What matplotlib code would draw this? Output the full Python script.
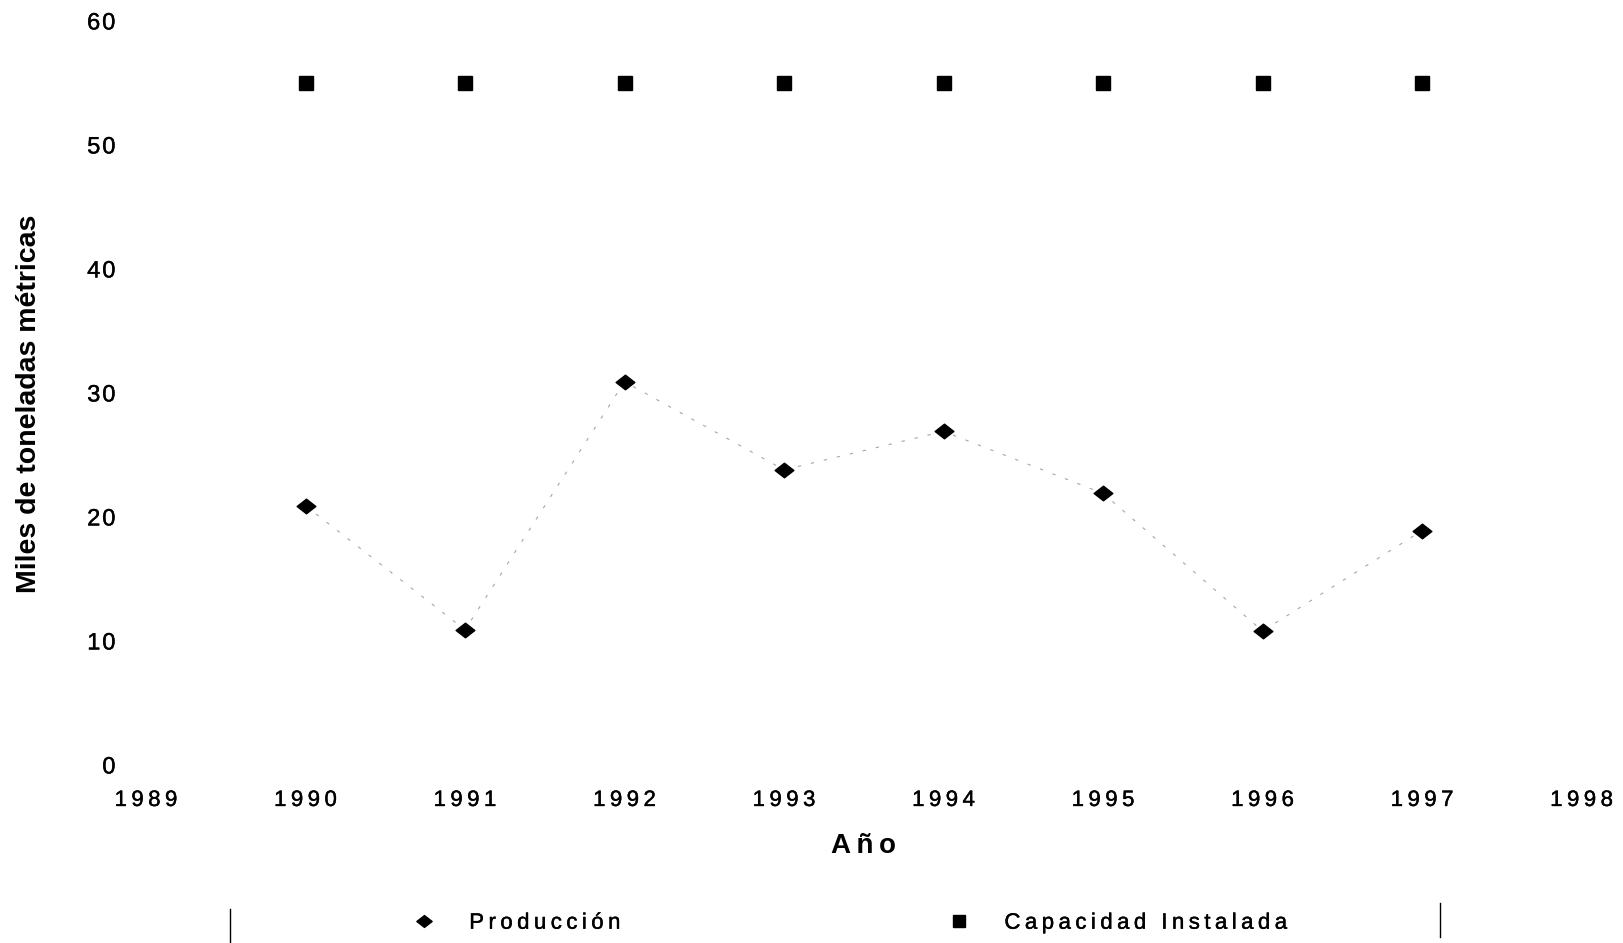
import matplotlib.pyplot as plt
import matplotlib.patheffects as pe
from matplotlib.lines import Line2D
from matplotlib.path import Path

years = [1990, 1991, 1992, 1993, 1994, 1995, 1996, 1997]
produccion = [20.9, 10.9, 30.9, 23.8, 26.9, 21.9, 10.8, 18.9]
capacidad = [55.0, 55.0, 55.0, 55.0, 55.0, 55.0, 55.0, 55.0]
x_ticks = list(range(1989, 1999))
y_ticks = [0, 10, 20, 30, 40, 50, 60]

TS = "\u2009"  # thin space, to imitate the letter spacing of the scan
HS = "\u200a"  # hair space


def spaced(s, sep=TS):
    return sep.join(s)


plt.rcParams['font.family'] = ['Liberation Sans', 'DejaVu Sans']
heavy = [pe.withStroke(linewidth=0.3, foreground='black')]

# wide, flat diamond like the scanned marker
diamond = Path([(-1, 0), (0, 0.78), (1, 0), (0, -0.78), (-1, 0)],
               [Path.MOVETO, Path.LINETO, Path.LINETO, Path.LINETO,
                Path.CLOSEPOLY])

fig = plt.figure(figsize=(16.24, 9.43), dpi=100)
ax = fig.add_axes([0.0899, 0.1888, 0.884, 0.789])

# faded trend line between the production points
ax.plot(years, produccion, color='0.65', lw=0.8, dashes=(3, 9), zorder=1)
ax.plot(years, produccion, linestyle='none', marker=diamond,
        markersize=13.5, color='black', zorder=3)
ax.plot(years, capacidad, linestyle='none', marker='s',
        markersize=9.5, color='black', zorder=3)

ax.set_xlim(1989, 1998)
ax.set_ylim(0, 60)
ax.set_xticks(x_ticks)
ax.set_xticklabels([spaced(str(y)) for y in x_ticks])
ax.set_yticks(y_ticks)
ax.set_yticklabels([spaced(str(y), HS) for y in y_ticks])
ax.tick_params(axis='x', length=0, pad=18, labelsize=16)
ax.tick_params(axis='y', length=0, pad=22, labelsize=17)
for lab in ax.get_xticklabels() + ax.get_yticklabels():
    lab.set_path_effects(heavy)
for s in ax.spines.values():
    s.set_visible(False)

ax.set_xlabel(spaced("Año"), fontsize=20, fontweight='bold', labelpad=16)
fig.text(0.018, 0.572, "Miles de toneladas métricas", rotation=90,
         fontsize=20.5, fontweight='bold', ha='center', va='center')

# legend at the bottom, frame mostly faded: only the side edges remain
handles = [
    Line2D([], [], linestyle='none', marker=diamond, markersize=11,
           color='black', label=spaced("Producción")),
    Line2D([], [], linestyle='none', marker='s', markersize=8,
           color='black', label=spaced("Capacidad Instalada")),
]
leg = fig.legend(handles=handles, loc='center', bbox_to_anchor=(0.5205, 0.021),
                 ncol=2, frameon=False, fontsize=16, columnspacing=14.2,
                 handlelength=2, handletextpad=1.05)
for t in leg.get_texts():
    t.set_path_effects(heavy)
fig.add_artist(Line2D([0.1416, 0.1416], [0.0, 0.036], color='black', lw=1))
fig.add_artist(Line2D([0.8867, 0.8867], [0.006, 0.042], color='black', lw=1))

fig.savefig("out.png", dpi=100)
